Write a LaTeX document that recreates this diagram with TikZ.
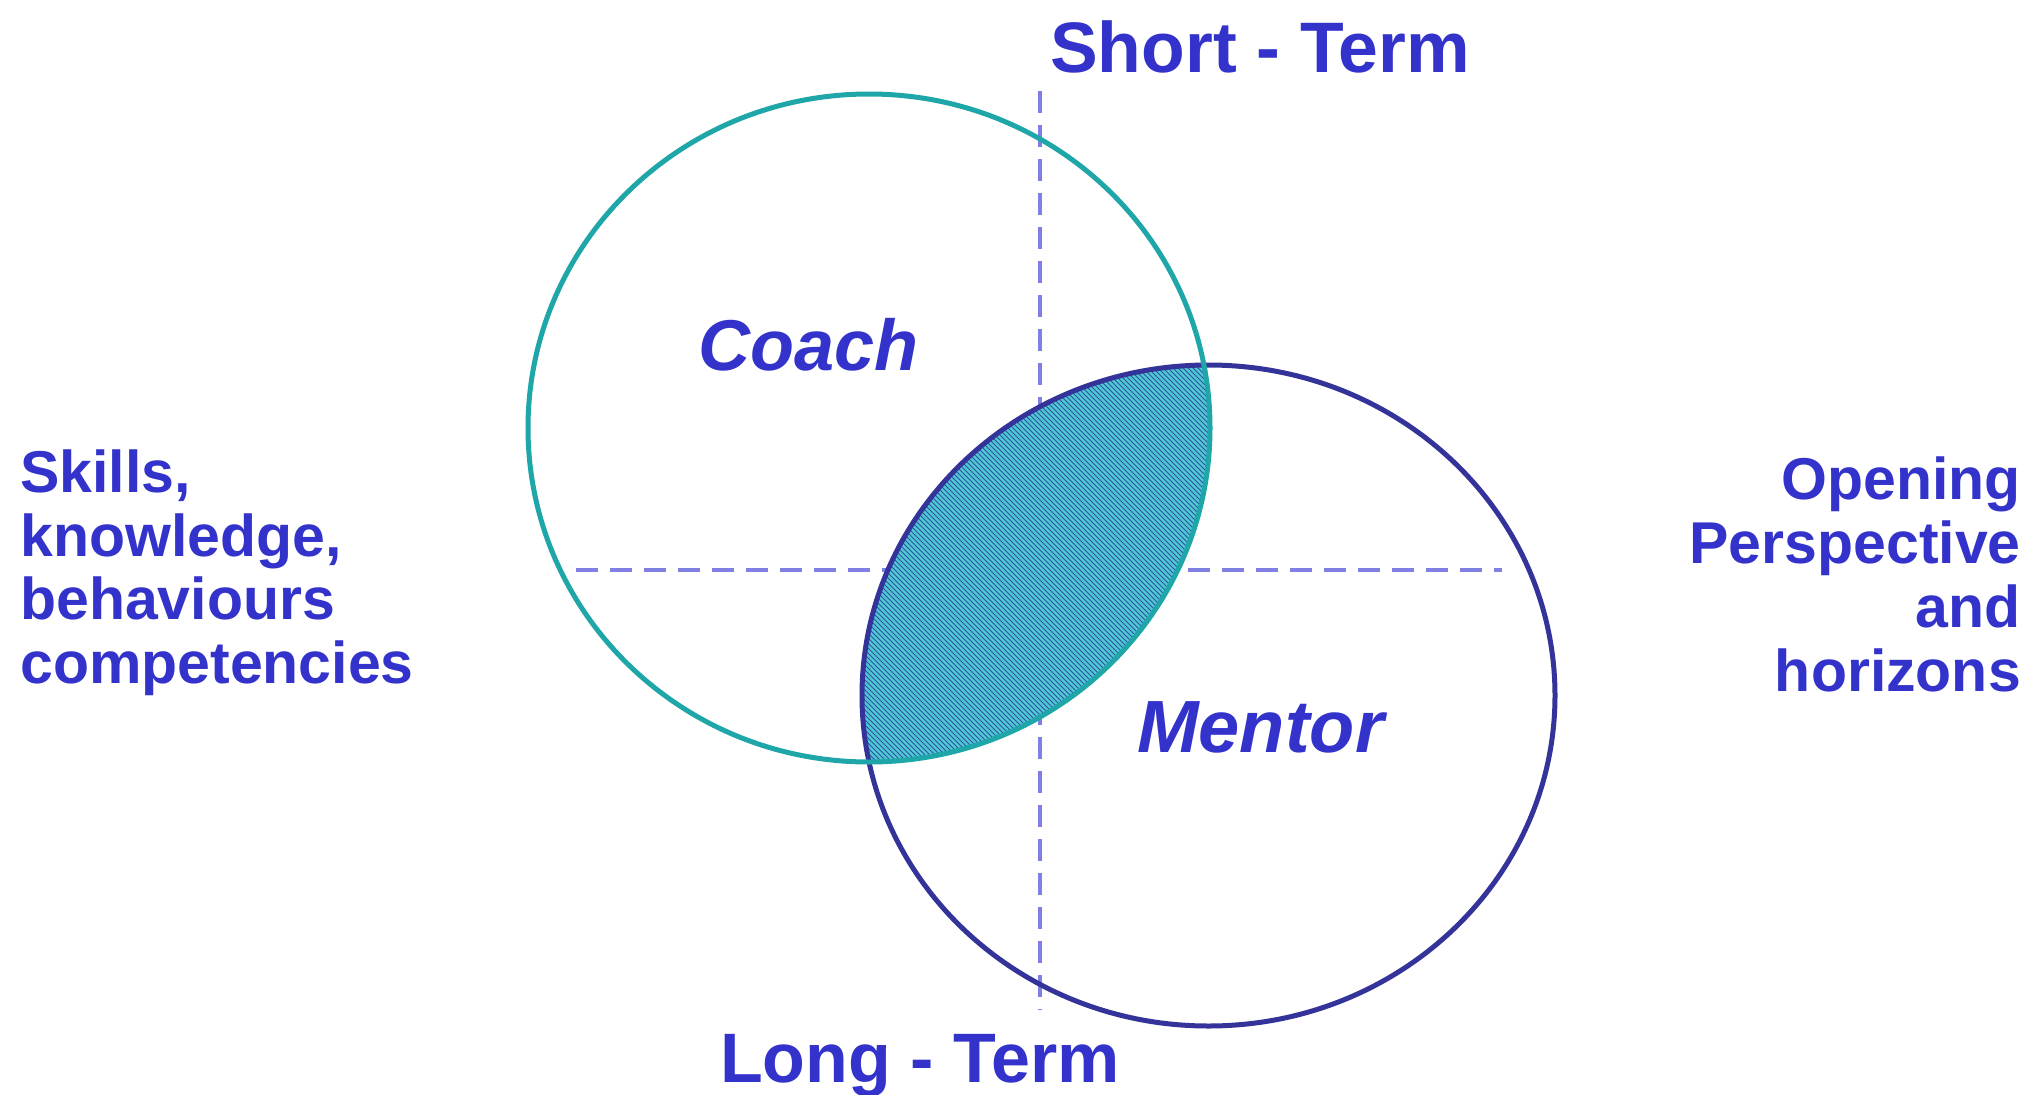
\documentclass[tikz,border=0pt]{standalone}
\usepackage{fontspec}
\setmainfont{Liberation Sans}
\definecolor{txt}{HTML}{3333CC}
\definecolor{coachc}{HTML}{1FA6A8}
\definecolor{mentorc}{HTML}{33339A}
\definecolor{dashc}{HTML}{7F7FE4}
\definecolor{fillc}{HTML}{4FC9D0}
\definecolor{hatchc}{HTML}{3050A8}
\begin{document}
\begin{tikzpicture}[x=1pt,y=-1pt,
  lbl/.style={text=txt,inner sep=0pt,font=\bfseries},
  axisline/.style={draw=dashc,line width=4pt,dash pattern=on 22pt off 12pt},
  ring/.style={line width=5pt}]
\useasboundingbox[fill=white] (0,0) rectangle (2030,1095);
% axes
\coordinate (vtop) at (1040,91);
\coordinate (vbot) at (1040,1010);
\coordinate (hl) at (576,570);
\coordinate (hr) at (1502,570);
\draw[axisline] (vtop) -- (vbot);
\draw[axisline] (hl) -- (hr);
% intersection
\begin{scope}
  \clip (869,428) ellipse [x radius=341, y radius=334];
  \fill[fillc] (1208.5,695.5) ellipse [x radius=346.5, y radius=330.5];
  \clip (1208.5,695.5) ellipse [x radius=346.5, y radius=330.5];
  \foreach \c in {80,85,...,860}{
    \draw[hatchc,line width=0.8pt] (\c+300,300) -- (\c+820,820);
  }
\end{scope}
% circles
\draw[mentorc,ring] (1208.5,695.5) ellipse [x radius=346.5, y radius=330.5];
\draw[coachc,ring] (869,428) ellipse [x radius=341, y radius=334];
% labels
\node[lbl,anchor=base west,font=\fontsize{71.5}{71.5}\bfseries\selectfont] (short) at (1050,72) {Short - Term};
\node[lbl,anchor=base west,font=\fontsize{70}{70}\bfseries\selectfont] (long) at (720,1082) {Long - Term};
\node[lbl,anchor=base west,font=\fontsize{72}{72}\bfseries\itshape\selectfont] (coach) at (698,370) {Coach};
\node[lbl,anchor=base west,font=\fontsize{74}{74}\bfseries\itshape\selectfont] (mentor) at (1137,752) {Mentor};
\node[lbl,anchor=north west,align=left,font=\fontsize{59}{63.5}\bfseries\selectfont] (skills) at (20,450) {Skills,\\knowledge,\\behaviours\\competencies};
\node[lbl,anchor=north east,align=right,font=\fontsize{59}{64}\bfseries\selectfont] (opening) at (2021,457) {Opening\\Perspective\\and\\horizons};
\end{tikzpicture}
\end{document}
